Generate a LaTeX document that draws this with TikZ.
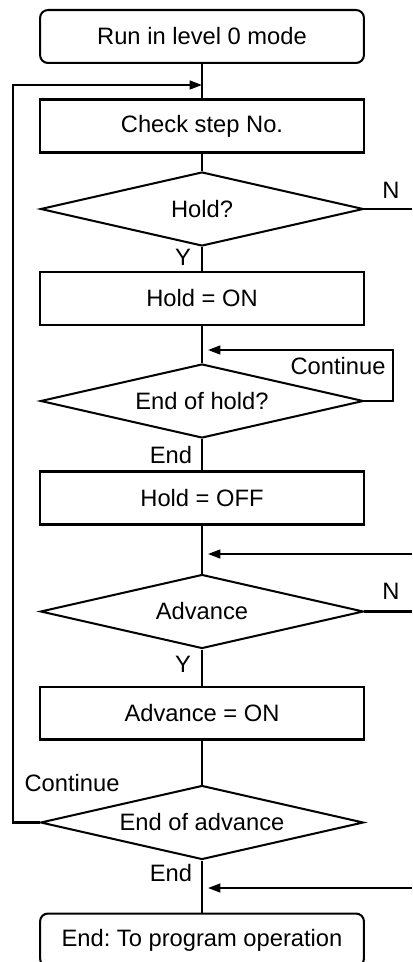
\documentclass[tikz,border=0pt]{standalone}
\usepackage{fontspec}
\setmainfont{Liberation Sans}
\usetikzlibrary{arrows.meta, positioning, shapes.geometric}
\frenchspacing

\begin{document}
\begin{tikzpicture}[
    x=0.02cm, y=-0.02cm,
    >={Triangle[length=7pt, width=5pt]},
    every node/.style={font=\fontsize{13.5pt}{16pt}\selectfont},
    line width=1.15pt,
    termbox/.style={draw, rounded corners=0.16cm, minimum width=6.48cm,
                    minimum height=1.06cm, inner sep=0pt},
    procbox/.style={draw, minimum width=6.5cm, minimum height=1.06cm, inner sep=0pt},
    decision/.style={draw, diamond, aspect=4.4, minimum width=6.46cm,
                     minimum height=1.48cm, inner sep=0pt},
]
\useasboundingbox (0,0) rectangle (412,962);
% main column of steps
\node[termbox]  (start)   at (202,36.5)  {Run in level 0 mode};
\node[procbox]  (check)   at (202,126)   {Check step No.};
\node[decision] (hold)    at (202,209)   {Hold?};
\node[procbox]  (holdon)  at (202,298.5) {Hold = ON};
\node[decision] (endhold) at (202,401)   {End of hold?};
\node[procbox]  (holdoff) at (202,498)   {Hold = OFF};
\node[decision] (adv)     at (202,611.5) {Advance};
\node[procbox]  (advon)   at (202,713)   {Advance = ON};
\node[decision] (endadv)  at (202,822.5) {End of advance};
\node[termbox]  (finish)  at (202,940)   {End: To program operation};
% junction points and the right edge of the picture
\coordinate (jtop) at (202,85);
\coordinate (j2)   at (208,350);
\coordinate (j3)   at (208,554);
\coordinate (j4)   at (208,888);
\coordinate (lx)   at (13,0);
\coordinate (cx)   at (393,0);
\coordinate (rim)  at (412,0);
% flow down the column
\draw (start) -- (check);
\draw (check) -- (hold);
\draw (hold) -- (holdon);
\draw (holdon) -- (endhold);
\draw (endhold) -- (holdoff);
\draw (holdoff) -- (adv);
\draw (adv) -- (advon);
\draw (advon) -- (endadv);
\draw (endadv) -- (finish);
% N branches leave to the right
\draw (hold.east) -- (hold.east -| rim);
\draw (adv.east) -- (adv.east -| rim);
% loops back
\draw[->] (endhold.east) -| (cx |- j2) -- (j2);
\draw[->] (endadv.west) -| (lx |- jtop) -- (jtop);
% entries from the right
\draw[->] (rim |- j3) -- (j3);
\draw[->] (rim |- j4) -- (j4);
% branch labels
\node (nhold)    at (391,190) {N};
\node (yhold)    at (183,257) {Y};
\node (conthold) at (338,366) {Continue};
\node (endh)     at (171,455) {End};
\node (nadv)     at (391,591) {N};
\node (yadv)     at (183,664) {Y};
\node (contadv)  at (72,783)  {Continue};
\node (enda)     at (171,873) {End};
\end{tikzpicture}
\end{document}
